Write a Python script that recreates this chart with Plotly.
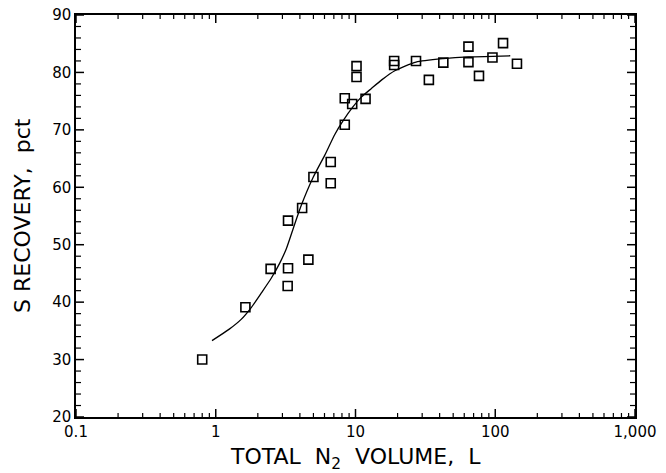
import math
import plotly.graph_objects as go

# Measured data (total N2 volume, L ; S recovery, pct)
volume = [0.80, 1.63, 2.47, 3.29, 3.27, 3.29, 4.60, 4.15, 5.00, 6.65, 6.65,
          8.38, 8.38, 9.47, 10.17, 10.17, 11.8, 18.9, 18.9, 27.1, 33.5, 42.5,
          64.3, 64.3, 76.5, 95.5, 113.7, 143.0]
recovery = [30.0, 39.1, 45.8, 45.9, 42.8, 54.2, 47.4, 56.4, 61.8, 64.4, 60.7,
            70.9, 75.5, 74.5, 81.1, 79.2, 75.4, 82.0, 81.3, 82.0, 78.7, 81.7,
            84.5, 81.8, 79.4, 82.6, 85.1, 81.5]

# Fitted curve
curve_x = [0.94, 1.25, 1.52, 1.80, 2.12, 2.50, 2.87, 3.20, 3.57, 4.10, 4.97, 6.03,
           7.11, 8.16, 9.52, 11.0, 13.0, 15.4, 19.1, 27.1, 42.5, 64.3, 95.5, 128]
curve_y = [33.3, 35.3, 37.0, 39.1, 41.6, 44.2, 46.8, 49.3, 52.7, 56.9, 61.7, 65.6,
           69.2, 71.6, 73.9, 75.7, 77.2, 78.7, 80.3, 81.8, 82.4, 82.7, 82.8, 82.9]

x_major = [0.1, 1, 10, 100, 1000]
x_minor = [m * d for d in (0.1, 1, 10, 100) for m in range(2, 10)]
y_major = [20, 30, 40, 50, 60, 70, 80, 90]
y_minor = [v for v in range(22, 90, 2) if v % 10]

X_RANGE = [-1, 3]     # log10 units
Y_RANGE = [20, 90]

x_title = "TOTAL\u00a0\u00a0N<sub>2</sub>\u00a0\u00a0VOLUME,\u00a0\u00a0L"
y_title = "S\u00a0RECOVERY,\u00a0\u00a0pct"

fig = go.Figure()
fig.add_trace(go.Scatter(x=curve_x, y=curve_y, mode="lines",
                         line=dict(color="black", width=1.3, shape="spline", smoothing=0.6),
                         hoverinfo="skip", showlegend=False))
fig.add_trace(go.Scatter(x=volume, y=recovery, mode="markers",
                         marker=dict(symbol="square-open", size=9, color="black",
                                     line=dict(width=1.6, color="black")),
                         showlegend=False))


# Inward tick marks on all four sides (drawn as pixel-sized shapes)
def xfrac(v):
    return (math.log10(v) - X_RANGE[0]) / (X_RANGE[1] - X_RANGE[0])


def yfrac(v):
    return (v - Y_RANGE[0]) / (Y_RANGE[1] - Y_RANGE[0])


shapes = []
for vals, length, width in ((x_major, 8, 1.5), (x_minor, 4, 1.2)):
    for v in vals:
        f = xfrac(v)
        for anchor, sign in ((0, 1), (1, -1)):
            shapes.append(dict(type="line", xref="paper", yref="paper",
                               x0=f, x1=f, ysizemode="pixel", yanchor=anchor,
                               y0=0, y1=sign * length,
                               line=dict(color="black", width=width), layer="above"))
for vals, length, width in ((y_major, 8, 1.5), (y_minor, 5, 1.2)):
    for v in vals:
        f = yfrac(v)
        for anchor, sign in ((0, 1), (1, -1)):
            shapes.append(dict(type="line", xref="paper", yref="paper",
                               y0=f, y1=f, xsizemode="pixel", xanchor=anchor,
                               x0=0, x1=sign * length,
                               line=dict(color="black", width=width), layer="above"))

font = "DejaVu Sans, Arial, sans-serif"
common = dict(ticks="", mirror=True, showgrid=False, zeroline=False,
              showline=True, linecolor="black", linewidth=1.5,
              tickfont=dict(size=15, family=font, color="black"))
fig.update_layout(
    width=666, height=473,
    margin=dict(l=76, r=31, t=15, b=56, autoexpand=False),
    paper_bgcolor="white", plot_bgcolor="white",
    font=dict(family=font, color="black", size=15),
    xaxis=dict(type="log", range=X_RANGE, tickvals=x_major, tickformat=",", **common),
    yaxis=dict(range=Y_RANGE, tickvals=y_major, **common),
    shapes=shapes,
    annotations=[
        dict(text=x_title, xref="paper", yref="paper", x=0.5, y=0,
             xanchor="center", yanchor="middle", yshift=-41, showarrow=False,
             font=dict(size=22, family=font, color="black")),
        dict(text=y_title, xref="paper", yref="paper", x=0, y=0.5, textangle=-90,
             xanchor="center", yanchor="middle", xshift=-54, showarrow=False,
             font=dict(size=22, family=font, color="black")),
    ],
)

fig.write_html("out.html", config={"displayModeBar": False},
               post_script="document.body.style.margin='0';document.body.style.overflow='hidden';")
